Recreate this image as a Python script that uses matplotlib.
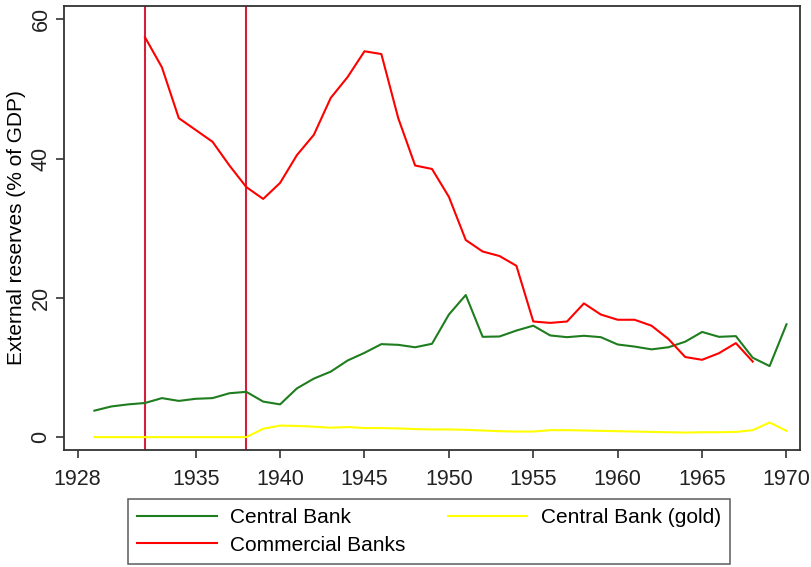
import matplotlib
matplotlib.use("Agg")
import matplotlib.pyplot as plt

plt.rcParams['font.family'] = ['Liberation Sans', 'DejaVu Sans']

years_cb = list(range(1929, 1971))
central_bank = [3.8, 4.4, 4.7, 4.9, 5.6, 5.2, 5.5, 5.6, 6.3, 6.5,
                5.1, 4.7, 7.0, 8.4, 9.4, 11.0, 12.1, 13.35, 13.25, 12.9,
                13.4, 17.6, 20.4, 14.4, 14.45, 15.3, 16.0, 14.6, 14.35, 14.55,
                14.35, 13.3, 13.0, 12.6, 12.9, 13.7, 15.1, 14.4, 14.5, 11.4,
                10.2, 16.2]
central_gold = [0.0, 0.0, 0.0, 0.0, 0.0, 0.0, 0.0, 0.0, 0.0, 0.0,
                1.2, 1.65, 1.6, 1.5, 1.35, 1.45, 1.3, 1.3, 1.25, 1.15,
                1.1, 1.1, 1.05, 0.95, 0.85, 0.8, 0.8, 1.0, 1.0, 0.95,
                0.9, 0.85, 0.8, 0.75, 0.7, 0.65, 0.7, 0.7, 0.75, 1.0,
                2.1, 0.9]
years_com = list(range(1932, 1969))
commercial = [57.4, 53.1, 45.8, 44.1, 42.4, 39.0, 35.9, 34.2, 36.5, 40.5,
              43.4, 48.7, 51.7, 55.4, 55.0, 45.8, 39.0, 38.5, 34.5, 28.3,
              26.65, 26.0, 24.6, 16.6, 16.4, 16.6, 19.2, 17.6, 16.85, 16.85,
              16.0, 14.1, 11.5, 11.1, 12.05, 13.5, 10.85]
vlines = [1932, 1938]
xticks = [1928, 1935, 1940, 1945, 1950, 1955, 1960, 1965, 1970]
yticks = [0, 20, 40, 60]

fig = plt.figure(figsize=(8.12, 5.67), dpi=100)
ax = fig.add_axes([64/812, 1-450/567, (800-64)/812, (450-6)/567])

for v in vlines:
    ax.axvline(v, color='#d21f3c', lw=1.5, zorder=1)
l1, = ax.plot(years_cb, central_bank, color='#1e7d1e', lw=1.5, label='Central Bank')
l2, = ax.plot(years_cb, central_gold, color='#ffff00', lw=1.5, label='Central Bank (gold)')
l3, = ax.plot(years_com, commercial, color='#ff0000', lw=1.5, label='Commercial Banks')

ax.set_xlim(1927.2, 1970.8)
ax.set_ylim(-1.85, 61.9)
ax.set_xticks(xticks)
ax.set_yticks(yticks)
ax.tick_params(direction='out', length=6, width=1.1, labelsize=15.5, colors='#222222')
ax.tick_params(axis='x', pad=8)
ax.tick_params(axis='y', pad=3)
for lab in ax.get_yticklabels():
    lab.set_rotation(90)
    lab.set_va('center')
for s in ax.spines.values():
    s.set_color('#333333')
    s.set_linewidth(1.3)
ax.set_ylabel('External reserves (% of GDP)', fontsize=15)
ax.yaxis.set_label_coords((26-64)/736, 0.5)

leg = fig.legend(handles=[l1, l3, l2], ncol=2, loc='upper left',
                 bbox_to_anchor=(128/812, 1-499/567),
                 fontsize=15, frameon=True, fancybox=False,
                 edgecolor='#333333', handlelength=3.8, handletextpad=0.67,
                 borderpad=0.45, labelspacing=0.4, columnspacing=2.0,
                 borderaxespad=0)
leg.get_frame().set_linewidth(1.1)

fig.savefig('out.png', dpi=100)
